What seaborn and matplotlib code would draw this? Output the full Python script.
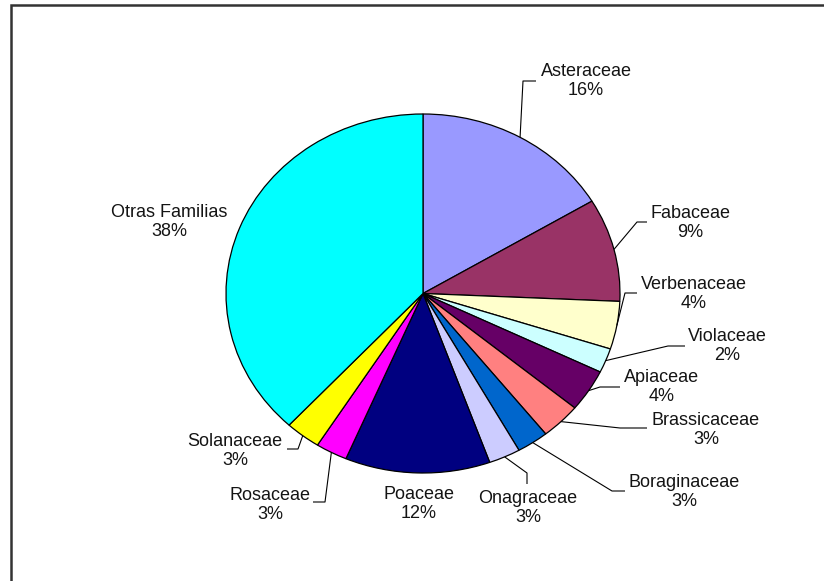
import numpy as np
import matplotlib
matplotlib.use("Agg")
import matplotlib.pyplot as plt
from matplotlib.patches import Rectangle
import seaborn as sns

familias = ['Asteraceae', 'Fabaceae', 'Verbenaceae', 'Violaceae', 'Apiaceae',
            'Brassicaceae', 'Boraginaceae', 'Onagraceae', 'Poaceae', 'Rosaceae',
            'Solanaceae', 'Otras Familias']
porcentajes = [16.4, 9.3, 4.3, 2.2, 3.8, 3.3, 2.6, 2.6, 11.9, 2.6, 2.9, 38.1]
colores = ['#9999FF', '#993366', '#FFFFCC', '#CCFFFF', '#660066', '#FF8080',
           '#0066CC', '#CCCCFF', '#000080', '#FF00FF', '#FFFF00', '#00FFFF']

# posiciones de las etiquetas (pixeles de la imagen) y codo de la linea guia
pos_etiquetas = [(586, 81), (690, 223), (694, 294), (727, 346), (662, 387),
                 (706, 430), (684, 492), (528, 508), (419, 504), (270, 505),
                 (235, 451), (169, 222)]
guias = [[(523, 81), (536, 81)], [(637, 222), (647, 222)], [(625, 293), (637, 293)],
         [(668, 346), (685, 346)], [(600, 387), (620, 387)], [(620, 428), (647, 428)],
         [(612, 491), (625, 491)], [(527, 473), (527, 484)], None,
         [(325, 502), (313, 502)], [(298, 449), (287, 449)], None]

sns.set_theme(style='white')
plt.rcParams['font.family'] = ['Liberation Sans', 'DejaVu Sans']

W, H = 824, 581
cx, cy, rx, ry = 423, 293.5, 197, 179.5

fig = plt.figure(figsize=(W / 100, H / 100), dpi=100)
fig.patch.set_facecolor('white')
ax = fig.add_axes([0, 0, 1, 1])

ax.pie(porcentajes, colors=colores, startangle=90, counterclock=False,
       wedgeprops=dict(edgecolor='black', linewidth=0.9))
ax.set_aspect('auto')
ax.set_xlim(-cx / rx, (W - cx) / rx)
ax.set_ylim(-(H - cy) / ry, cy / ry)
ax.axis('off')


def px(x, y):
    return (x - cx) / rx, (cy - y) / ry


total = sum(porcentajes)
acum = 0
for nombre, v, pos, guia in zip(familias, porcentajes, pos_etiquetas, guias):
    medio = (acum + v / 2) / total * 2 * np.pi
    acum += v
    if guia is not None:
        puntos = [(np.sin(medio), np.cos(medio))] + [px(*p) for p in guia]
        xs, ys = zip(*puntos)
        ax.plot(xs, ys, color='black', lw=0.8, solid_capstyle='butt')
    tx, ty = px(*pos)
    ax.text(tx, ty, f'{nombre}\n{round(v)}%', ha='center', va='center', fontsize=13,
            color='#141414', linespacing=1.2, multialignment='center')

# marco del area del grafico
fig.add_artist(Rectangle((11 / W, -0.1), 1.2, 1 - 5 / H + 0.1,
                         transform=fig.transFigure, fill=False,
                         edgecolor='#333333', linewidth=1.8))

fig.savefig('out.png', dpi=100)
